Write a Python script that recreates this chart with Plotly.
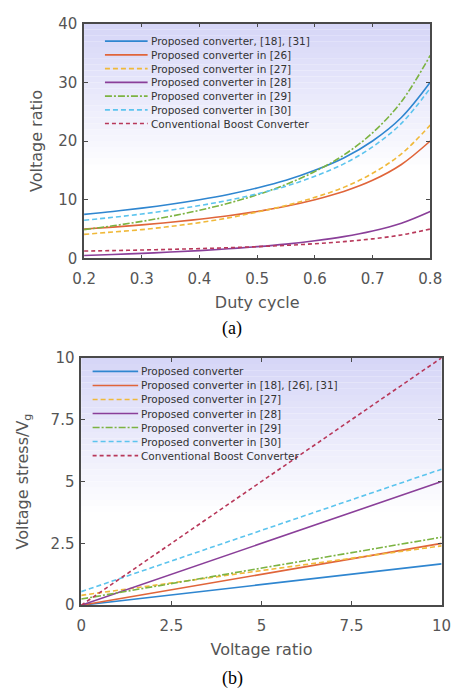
import plotly.graph_objects as go

# ---------------- data (a) ----------------
duty = [0.20, 0.25, 0.30, 0.35, 0.40, 0.45, 0.50, 0.55, 0.60, 0.65, 0.70, 0.75, 0.80]
a_prop_18_31 = [7.5, 8.0, 8.57, 9.23, 10.0, 10.9, 12.0, 13.3, 15.0, 17.1, 20.0, 24.0, 30.0]
a_26 = [5.0, 5.33, 5.71, 6.15, 6.67, 7.27, 8.0, 8.89, 10.0, 11.4, 13.3, 16.0, 20.0]
a_27 = [4.1, 4.5, 4.9, 5.45, 6.1, 6.9, 7.9, 9.0, 10.4, 12.1, 14.5, 17.8, 22.7]
a_28 = [0.5, 0.67, 0.86, 1.08, 1.33, 1.64, 2.0, 2.44, 3.0, 3.71, 4.67, 6.0, 8.0]
a_29 = [4.9, 5.56, 6.31, 7.18, 8.2, 9.4, 10.84, 12.6, 14.8, 17.6, 21.4, 26.7, 34.6]
a_30 = [6.5, 7.0, 7.57, 8.23, 9.0, 9.9, 11.0, 12.3, 14.0, 16.1, 19.0, 23.0, 29.0]
a_boost = [1.25, 1.33, 1.43, 1.54, 1.67, 1.82, 2.0, 2.22, 2.5, 2.86, 3.33, 4.0, 5.0]

names_a = ["Proposed converter, [18], [31]", "Proposed converter in [26]",
           "Proposed converter in [27]", "Proposed converter in [28]",
           "Proposed converter in [29]", "Proposed converter in [30]",
           "Conventional Boost Converter"]

# ---------------- data (b) ----------------
ratio = [0, 10]
b_prop = [0.0, 1.67]
b_18_26_31 = [0.0, 2.5]
b_27 = [0.4, 2.4]
b_28 = [0.0, 5.0]
b_29 = [0.25, 2.75]
b_30 = [0.55, 5.5]
b_boost = [0.0, 10.0]

names_b = ["Proposed converter", "Proposed converter in [18], [26], [31]",
           "Proposed converter in [27]", "Proposed converter in [28]",
           "Proposed converter in [29]", "Proposed converter in [30]",
           "Conventional Boost Converter"]

colors = ["#2f86d0", "#e0653a", "#f0b93a", "#8a3f99", "#7cb342", "#5cc4ee", "#b8385a"]
dashes = ["solid", "solid", "5px,3px", "solid", "7px,2px,2px,2px", "5px,3px", "4px,3px"]

fig = go.Figure()

series_a = [a_prop_18_31, a_26, a_27, a_28, a_29, a_30, a_boost]
for nm, ys, c, d in zip(names_a, series_a, colors, dashes):
    fig.add_trace(go.Scatter(x=duty, y=ys, name=nm, mode="lines",
                             line=dict(color=c, dash=d, width=1.6, shape="spline"),
                             xaxis="x", yaxis="y", showlegend=False))

series_b = [b_prop, b_18_26_31, b_27, b_28, b_29, b_30, b_boost]
for nm, ys, c, d in zip(names_b, series_b, colors, dashes):
    fig.add_trace(go.Scatter(x=ratio, y=ys, name=nm, mode="lines",
                             line=dict(color=c, dash=d, width=1.6),
                             xaxis="x2", yaxis="y2", showlegend=False))

W, H = 465, 699
def px_x(v): return v / W
def px_y(v): return 1 - v / H

axis_common = dict(showline=True, linecolor="#4a4a4a", linewidth=1.5, mirror="ticks",
                   ticks="inside", ticklen=4, tickcolor="#4a4a4a", showgrid=False,
                   zeroline=False, tickfont=dict(family="DejaVu Sans", size=15, color="#555555"),
                   title_font=dict(family="DejaVu Sans", size=16, color="#555555"))

fig.update_layout(
    width=W, height=H, margin=dict(l=0, r=0, t=0, b=0),
    paper_bgcolor="white", plot_bgcolor="rgba(0,0,0,0)",
    xaxis=dict(domain=[px_x(76), px_x(441)], range=[0.2, 0.8], anchor="y",
               tickvals=[0.2, 0.3, 0.4, 0.5, 0.6, 0.7, 0.8], title_text="Duty cycle",
               title_standoff=10, ticklabelstandoff=6, **axis_common),
    yaxis=dict(domain=[px_y(256), px_y(15)], range=[0, 40], anchor="x",
               tickvals=[0, 10, 20, 30, 40], title_text="Voltage ratio",
               title_standoff=12, ticklabelstandoff=2, **axis_common),
    xaxis2=dict(domain=[px_x(73), px_x(453)], range=[0, 10], anchor="y2",
                tickvals=[0, 2.5, 5, 7.5, 10], ticktext=["0", "2.5", "5", "7.5", "10"],
                title_text="Voltage ratio", title_standoff=10, ticklabelstandoff=6,
                **axis_common),
    yaxis2=dict(domain=[px_y(612), px_y(358)], range=[0, 10], anchor="x2",
                tickvals=[0, 2.5, 5, 7.5, 10], ticktext=["0", "2.5", "5", "7.5", "10"],
                title_text="Voltage stress/V<sub>g</sub>", title_standoff=18,
                ticklabelstandoff=2, **axis_common),
    showlegend=False,
)

# gradient background (lavender at top fading to white)
shapes = []
nb = 40
for ax_x, ax_y in (("x", "y"), ("x2", "y2")):
    for i in range(nb):
        y0 = 1 - (i + 1) / nb
        y1 = 1 - i / nb
        t = i / nb
        f = max(0.0, 1 - t / 0.62)
        r = int(round(255 - (255 - 214) * f))
        g = int(round(255 - (255 - 214) * f))
        b = int(round(255 - (255 - 247) * f))
        shapes.append(dict(type="rect", xref=f"{ax_x} domain", yref=f"{ax_y} domain",
                           x0=0, x1=1, y0=y0, y1=y1, layer="below", line_width=0,
                           fillcolor=f"rgb({r},{g},{b})"))

# hand-drawn legends (compact row spacing like the original)
annotations = []
def add_legend(names, x_line0, x_line1, y_first, dy):
    for k, (nm, c, d) in enumerate(zip(names, colors, dashes)):
        yy = y_first + k * dy
        shapes.append(dict(type="line", xref="paper", yref="paper",
                           x0=px_x(x_line0), x1=px_x(x_line1), y0=px_y(yy), y1=px_y(yy),
                           line=dict(color=c, dash=d, width=1.6)))
        annotations.append(dict(text=nm, x=px_x(x_line1 + 1), y=px_y(yy), xref="paper",
                                yref="paper", xanchor="left", yanchor="middle",
                                showarrow=False,
                                font=dict(family="DejaVu Sans", size=10.5, color="#333333")))

add_legend(names_a, 98, 143, 33, 14.1)
add_legend(names_b, 85, 133, 372, 14.4)

annotations.append(dict(text="(a)", x=px_x(232), y=px_y(328), xref="paper", yref="paper",
                        xanchor="center", yanchor="middle", showarrow=False,
                        font=dict(family="Liberation Serif", size=18, color="black")))
annotations.append(dict(text="(b)", x=px_x(232), y=px_y(687), xref="paper", yref="paper",
                        xanchor="center", yanchor="middle", showarrow=False,
                        font=dict(family="Liberation Serif", size=18, color="black")))

fig.update_layout(shapes=shapes, annotations=annotations)

fig.write_html("out.html")
